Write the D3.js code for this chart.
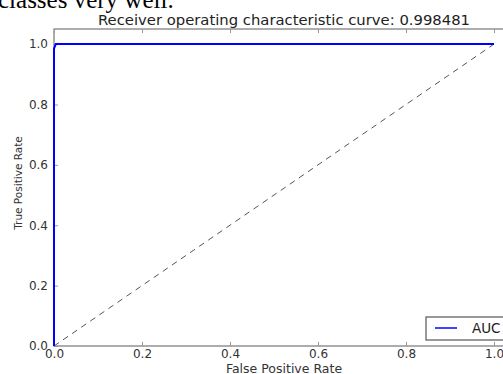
<!DOCTYPE html>
<html>
<head>
<meta charset="utf-8">
<script src="https://cdn.jsdelivr.net/npm/d3@7"></script>
<style>
  body { margin: 0; background: #fff; }
  svg { display: block; }
</style>
</head>
<body>
<svg id="chart" width="503" height="374"></svg>
<script>
// ROC curve points
const fpr = [0, 0, 0.004, 1.0];
const tpr = [0, 0.985, 1.0, 1.0];
const chance = [0, 1];
const xTicks = [0, 0.2, 0.4, 0.6, 0.8, 1.0];
const yTicks = [0, 0.2, 0.4, 0.6, 0.8, 1.0];
const aucScore = '0.998481';

const svg = d3.select('#chart');

const x = d3.scaleLinear().domain([0, 1.05]).range([54, 516]);
const y = d3.scaleLinear().domain([0, 1.05]).range([346, 29]);

// text above the figure, cut by the crop
svg.append('text')
  .attr('x', -2).attr('y', 8)
  .style('font-family', '"Liberation Serif", "Times New Roman", serif')
  .style('font-size', '25px')
  .attr('fill', '#000')
  .text('classes very well.');

const font = '"DejaVu Sans", sans-serif';

// frame
svg.append('rect')
  .attr('x', x(0)).attr('y', y(1.05))
  .attr('width', x(1.05) - x(0)).attr('height', y(0) - y(1.05))
  .attr('fill', 'none').attr('stroke', '#777').attr('stroke-width', 1.2);

// bottom axis
const xAxis = svg.append('g')
  .attr('transform', `translate(0,${y(0)})`)
  .call(d3.axisBottom(x).tickValues(xTicks).tickSize(-4).tickPadding(3).tickFormat(d3.format('.1f')));
xAxis.select('.domain').remove();

// top ticks only
const xTop = svg.append('g')
  .attr('transform', `translate(0,${y(1.05)})`)
  .call(d3.axisTop(x).tickValues(xTicks).tickSize(-4).tickFormat(''));
xTop.select('.domain').remove();

const yAxis = svg.append('g')
  .attr('transform', `translate(${x(0)},0)`)
  .call(d3.axisLeft(y).tickValues(yTicks).tickSize(-4).tickPadding(6).tickFormat(d3.format('.1f')));
yAxis.select('.domain').remove();

svg.selectAll('.tick line').attr('stroke', '#999');
svg.selectAll('.tick text')
  .style('font-family', font).style('font-size', '12px').attr('fill', '#333');

// chance line
svg.append('path')
  .datum(chance)
  .attr('d', d3.line().x(d => x(d)).y(d => y(d)))
  .attr('fill', 'none').attr('stroke', '#555').attr('stroke-width', 1)
  .attr('stroke-dasharray', '6,5');

// roc curve
svg.append('path')
  .datum(fpr.map((f, i) => [f, tpr[i]]))
  .attr('d', d3.line().x(d => x(d[0])).y(d => y(d[1])))
  .attr('fill', 'none').attr('stroke', '#0000ff').attr('stroke-width', 2);

// title
svg.append('text')
  .attr('x', 284).attr('y', 25)
  .attr('text-anchor', 'middle')
  .style('font-family', font).style('font-size', '14.8px').attr('fill', '#222')
  .text('Receiver operating characteristic curve: ' + aucScore);

svg.append('text')
  .attr('x', 284).attr('y', 373)
  .attr('text-anchor', 'middle')
  .style('font-family', font).style('font-size', '12.5px').attr('fill', '#333')
  .text('False Positive Rate');

svg.append('text')
  .attr('transform', 'translate(22,183) rotate(-90)')
  .attr('text-anchor', 'middle')
  .style('font-family', font).style('font-size', '10.5px').attr('fill', '#333')
  .text('True Positive Rate');

// legend
const lg = svg.append('g');
lg.append('rect')
  .attr('x', 426).attr('y', 317).attr('width', 100).attr('height', 23)
  .attr('fill', '#fff').attr('stroke', '#555').attr('stroke-width', 1.2);
lg.append('line')
  .attr('x1', 435).attr('x2', 457).attr('y1', 328).attr('y2', 328)
  .attr('stroke', '#4444ff').attr('stroke-width', 2);
lg.append('text')
  .attr('x', 472).attr('y', 332.5)
  .style('font-family', font).style('font-size', '13.5px').attr('fill', '#222')
  .text('AUC');
</script>
</body>
</html>
